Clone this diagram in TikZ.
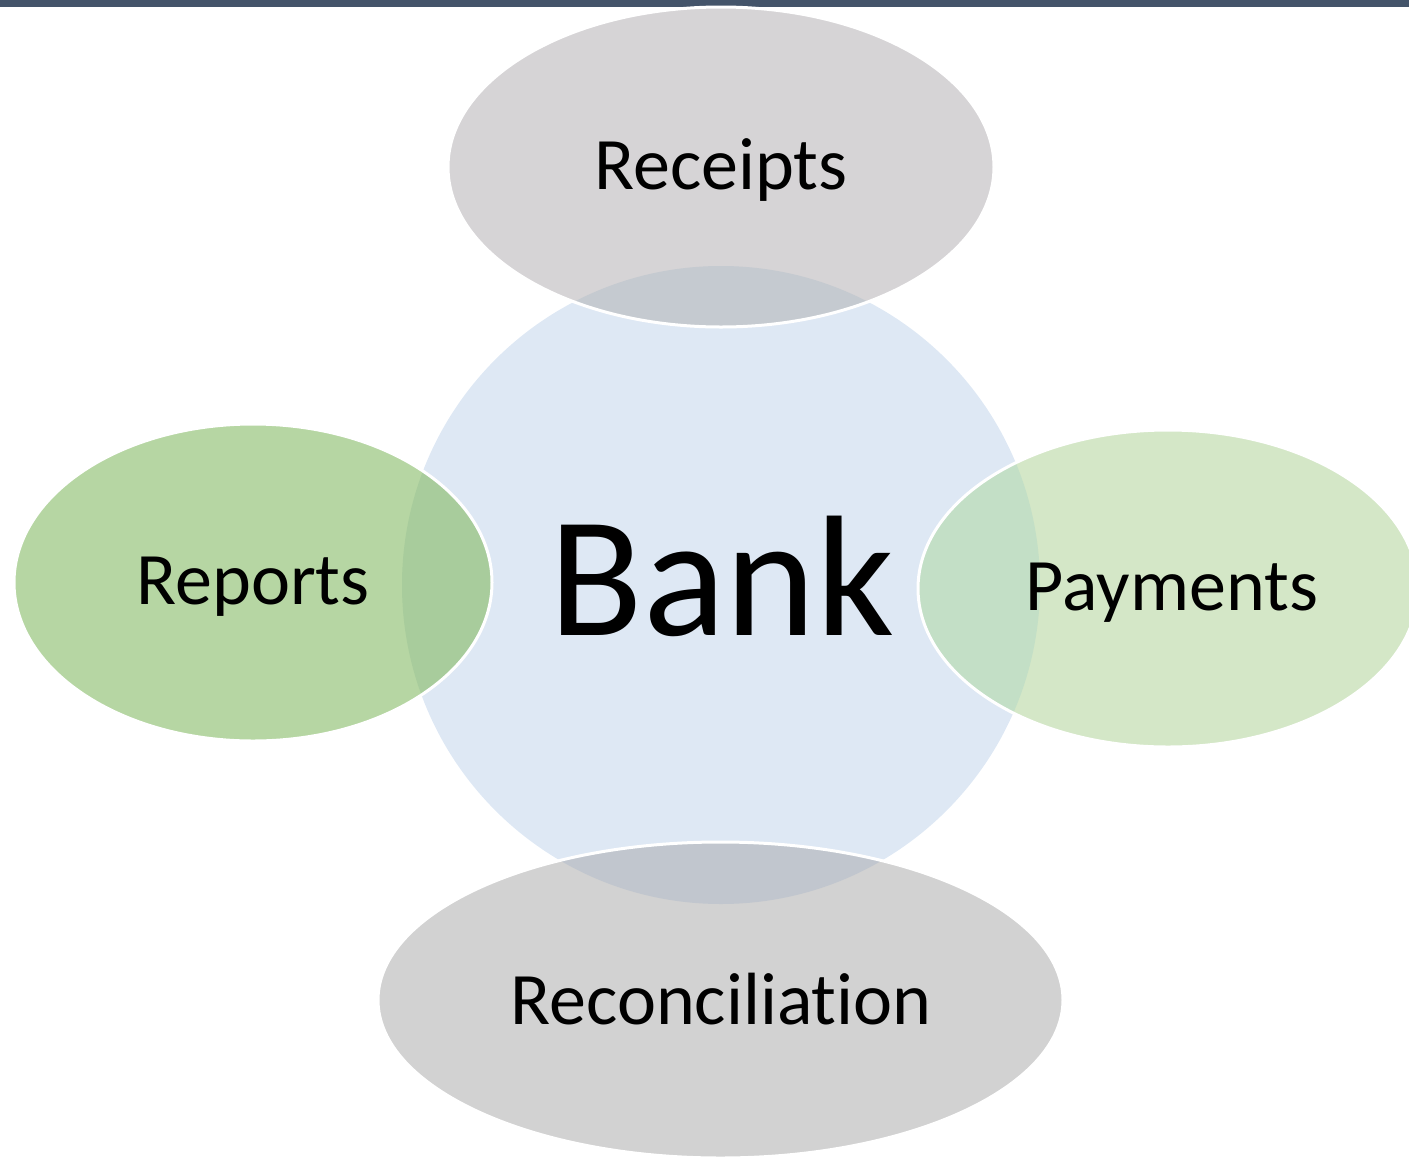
\documentclass[tikz,border=0pt]{standalone}
\usepackage{fontspec}
\setmainfont{Carlito}[Ligatures=NoCommon]
\definecolor{topbar}{HTML}{44546A}
\definecolor{bankfill}{HTML}{DEE8F4}
\definecolor{recfill}{HTML}{D6D4D6}
\definecolor{recov}{HTML}{C5CAD0}
\definecolor{repfill}{HTML}{B6D6A3}
\definecolor{repov}{HTML}{A8CC9C}
\definecolor{payfill}{HTML}{D4E7C7}
\definecolor{payov}{HTML}{C3DFC6}
\definecolor{recofill}{HTML}{D2D2D2}
\definecolor{recoov}{HTML}{C1C6CE}
\tikzset{
  rim/.style={draw=white, line width=3pt},
  lbl/.style={anchor=base, inner sep=0pt, font=\fontsize{74}{80}\selectfont, text=black},
  banklbl/.style={anchor=base, inner sep=0pt, font=\fontsize{172}{180}\selectfont, text=black}
}
\begin{document}
\begin{tikzpicture}[x=1pt,y=-1pt]
\useasboundingbox (0,0) rectangle (1409,1157);
\fill[topbar] (0,0) rectangle (1409,7);
% central circle
\fill[bankfill] (721,585) circle[radius=319pt];
% Receipts
\fill[recfill] (721,167) ellipse[x radius=273pt, y radius=160pt];
\begin{scope}
\clip (721,585) circle[radius=319pt];
\fill[recov] (721,167) ellipse[x radius=273pt, y radius=160pt];
\end{scope}
\draw[rim] (721,167) ellipse[x radius=273pt, y radius=160pt];
% Reports
\fill[repfill] (253,582.5) ellipse[x radius=239pt, y radius=158.5pt];
\begin{scope}
\clip (721,585) circle[radius=319pt];
\fill[repov] (253,582.5) ellipse[x radius=239pt, y radius=158.5pt];
\end{scope}
\draw[rim] (253,582.5) ellipse[x radius=239pt, y radius=158.5pt];
% Payments
\fill[payfill] (1168,588.5) ellipse[x radius=250pt, y radius=158.5pt];
\begin{scope}
\clip (721,585) circle[radius=319pt];
\fill[payov] (1168,588.5) ellipse[x radius=250pt, y radius=158.5pt];
\end{scope}
\draw[rim] (1168,588.5) ellipse[x radius=250pt, y radius=158.5pt];
% Reconciliation
\fill[recofill] (720.5,1000) ellipse[x radius=342.5pt, y radius=158pt];
\begin{scope}
\clip (721,585) circle[radius=319pt];
\fill[recoov] (720.5,1000) ellipse[x radius=342.5pt, y radius=158pt];
\end{scope}
\draw[rim] (720.5,1000) ellipse[x radius=342.5pt, y radius=158pt];
% labels
\node[banklbl] (bank) at (722,635) {Bank};
\node[lbl] (receipts) at (721,189) {Receipts};
\node[lbl] (reports) at (253,604) {Reports};
\node[lbl] (payments) at (1172,610) {Payments};
\node[lbl] (reconciliation) at (721,1024) {Reconciliation};
\end{tikzpicture}
\end{document}
